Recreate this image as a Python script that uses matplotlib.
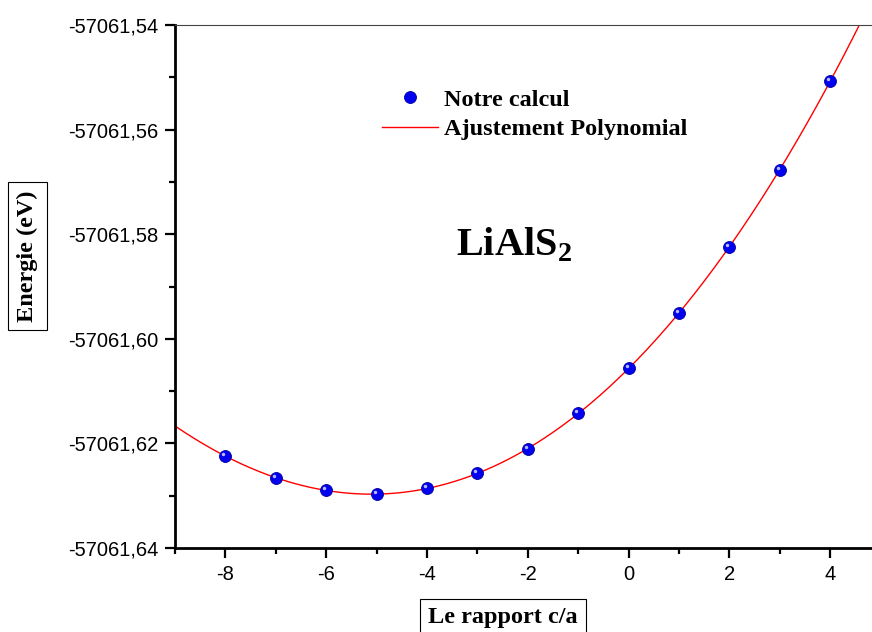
import numpy as np
import matplotlib.pyplot as plt
from matplotlib.ticker import FuncFormatter, MultipleLocator
from matplotlib.transforms import ScaledTranslation

# data
ratio_ca = [-8, -7, -6, -5, -4, -3, -2, -1, 0, 1, 2, 3, 4]
energy_ev = [-57061.6224, -57061.6266, -57061.6290, -57061.6297, -57061.6286,
             -57061.6257, -57061.6211, -57061.6142, -57061.6056, -57061.5951,
             -57061.5824, -57061.5677, -57061.5507]

SERIF = 'Liberation Serif'
SANS = 'Liberation Sans'
plt.rcParams['axes.unicode_minus'] = False

fig = plt.figure(figsize=(8.72, 6.32), dpi=100)
# axes runs off the right edge of the figure, like the original
ax = fig.add_axes([175 / 872, 1 - 548 / 632, 705.6 / 872, 523 / 632])

# polynomial fit through the computed points
coef = np.polyfit(ratio_ca, energy_ev, 3)
xfit = np.linspace(-9, 5, 300)
ax.plot(xfit, np.polyval(coef, xfit), color='red', lw=1.0, label='Ajustement Polynomial')

# blue spheres with a small highlight
ax.plot(ratio_ca, energy_ev, ls='none', marker='o', ms=8.6, mfc='#0000ee',
        mec='#0000a0', mew=0.6, label='Notre calcul', zorder=3)
shift = ScaledTranslation(-2 / 100, 2 / 100, fig.dpi_scale_trans)
ax.plot(ratio_ca, energy_ev, ls='none', marker='o', ms=2.5, mfc='#b8b8ff',
        mec='none', transform=ax.transData + shift, zorder=4)

ax.set_xlim(-9, 5)
ax.set_ylim(-57061.64, -57061.54)
ax.xaxis.set_major_locator(MultipleLocator(2))
ax.xaxis.set_minor_locator(MultipleLocator(1))
ax.yaxis.set_major_locator(MultipleLocator(0.02))
ax.yaxis.set_minor_locator(MultipleLocator(0.01))
ax.yaxis.set_major_formatter(FuncFormatter(lambda v, p: f'{v:.2f}'.replace('.', ',')))

ax.spines['right'].set_visible(False)
ax.spines['top'].set_linewidth(0.8)
ax.spines['top'].set_color('#444444')
ax.spines['left'].set_linewidth(2.0)
ax.spines['bottom'].set_linewidth(2.0)
ax.tick_params(which='both', direction='out', width=1.6, top=False, right=False)
ax.tick_params(which='major', length=7, labelsize=14.5, pad=5)
ax.tick_params(which='minor', length=4)
for lab in ax.get_xticklabels() + ax.get_yticklabels():
    lab.set_fontfamily(SANS)

box = dict(boxstyle='square,pad=0.35', fc='white', ec='black', lw=0.8)
fig.text(27.5 / 872, 1 - 256 / 632, 'Energie (eV)', rotation=90, ha='center', va='center',
         family=SERIF, weight='bold', fontsize=17.5, bbox=box)
fig.text(503 / 872, 1 - 618 / 632, 'Le rapport c/a', ha='center', va='center',
         family=SERIF, weight='bold', fontsize=17.5, bbox=box)

# legend drawn as in the original
handles, labels = ax.get_legend_handles_labels()
leg = ax.legend(handles[::-1], labels[::-1], loc='upper left',
                bbox_to_anchor=((360 - 175) / 705.6, (548 - 67) / 523),
                frameon=False, handlelength=2.3, handletextpad=0.25,
                labelspacing=0.3, prop={'family': SERIF, 'weight': 'bold', 'size': 17.5})

ax.text(0.398, 0.58, r'LiAlS$_\mathregular{2}$', transform=ax.transAxes,
        family=SERIF, weight='bold', fontsize=29, ha='left', va='center')

fig.savefig('out.png', dpi=100)
